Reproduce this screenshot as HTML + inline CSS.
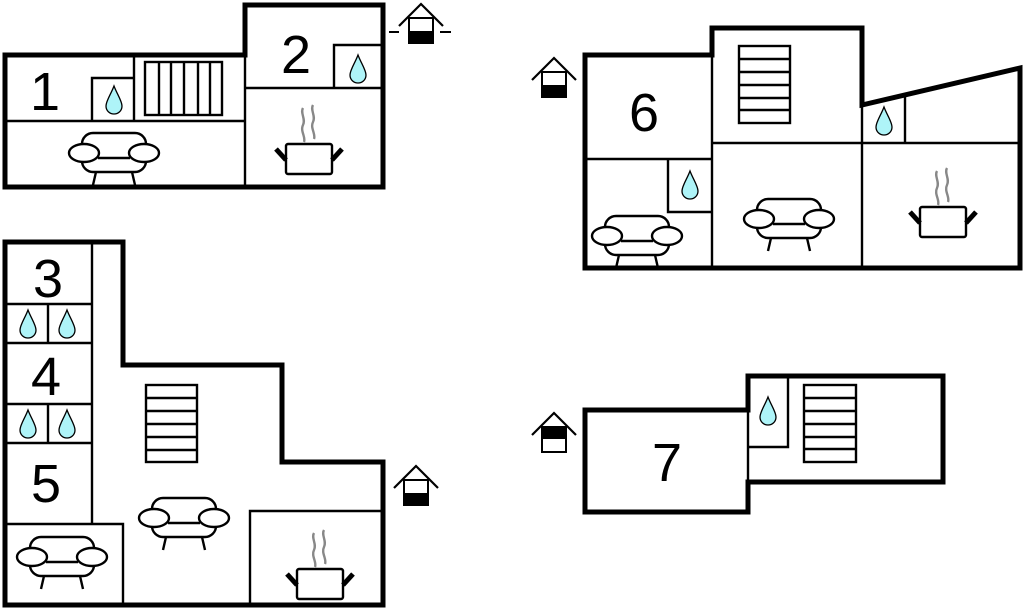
<!DOCTYPE html>
<html><head><meta charset="utf-8"><style>
html,body{margin:0;padding:0;background:#fff;width:1024px;height:609px;overflow:hidden}
svg{display:block}
text{font-family:"Liberation Sans",sans-serif;font-size:54px;fill:#000}
</style></head><body>
<svg width="1024" height="609" viewBox="0 0 1024 609" xmlns="http://www.w3.org/2000/svg">
<defs>
<g id="sofa" fill="#fff" stroke="#000" stroke-width="2.4">
 <rect x="-32" y="-22" width="64" height="39" rx="11"/>
 <ellipse cx="-30" cy="-2" rx="15" ry="9"/>
 <ellipse cx="30" cy="-2" rx="15" ry="9"/>
 <line x1="-16" y1="3" x2="16" y2="3"/>
 <line x1="-18" y1="17" x2="-21" y2="30"/>
 <line x1="18" y1="17" x2="21" y2="30"/>
</g>
<g id="drop"><path d="M0,-14 C-3,-6 -8,1 -8,6 C-8,11 -4,14 0,14 C4,14 8,11 8,6 C8,1 3,-6 0,-14 Z" fill="#aef4f8" stroke="#000" stroke-width="1.3"/></g>
<g id="pot">
 <path d="M-6,-47 C-9,-42 -3,-36 -6,-30 C-9,-24 -3,-18 -5,-13" fill="none" stroke="#888" stroke-width="2.4"/>
 <path d="M4,-50 C1,-45 7,-39 4,-33 C1,-27 7,-21 5,-16" fill="none" stroke="#888" stroke-width="2.4"/>
 <rect x="-23" y="-11" width="46" height="30" rx="2" fill="#fff" stroke="#000" stroke-width="2.4"/>
 <line x1="-33" y1="-6" x2="-23" y2="5" stroke="#000" stroke-width="5"/>
 <line x1="33" y1="-6" x2="23" y2="5" stroke="#000" stroke-width="5"/>
</g>
<g id="houseB"><polyline points="-22,22 0,0 22,22" fill="none" stroke="#000" stroke-width="2.2"/><rect x="-12" y="14" width="24" height="25" fill="#fff" stroke="#000" stroke-width="2"/><rect x="-12" y="27" width="24" height="12" fill="#000"/></g>
<g id="houseT"><polyline points="-22,22 0,0 22,22" fill="none" stroke="#000" stroke-width="2.2"/><rect x="-12" y="14" width="24" height="25" fill="#fff" stroke="#000" stroke-width="2"/><rect x="-12" y="14" width="24" height="12" fill="#000"/></g>
</defs>

<g fill="none" stroke="#000" stroke-width="2.4">
 <line x1="5" y1="121" x2="245" y2="121"/>
 <line x1="245" y1="55" x2="245" y2="187"/>
 <line x1="134" y1="55" x2="134" y2="121"/>
 <polyline points="92,121 92,78 134,78"/>
 <rect x="145" y="62" width="77" height="53"/>
 <line x1="159" y1="62" x2="159" y2="115"/><line x1="171" y1="62" x2="171" y2="115"/>
 <line x1="184" y1="62" x2="184" y2="115"/><line x1="198" y1="62" x2="198" y2="115"/>
 <line x1="210" y1="62" x2="210" y2="115"/>
 <line x1="245" y1="88" x2="383" y2="88"/>
 <polyline points="334,88 334,45 383,45"/>
</g>
<polygon points="5,55 245,55 245,5 383,5 383,187 5,187" fill="none" stroke="#000" stroke-width="5"/>
<text x="30" y="110">1</text>
<text x="281" y="73">2</text>
<use href="#drop" x="114" y="100"/>
<use href="#drop" x="358" y="69"/>
<use href="#sofa" x="114" y="155"/>
<use href="#pot" x="309" y="155"/>
<use href="#houseB" x="421" y="4"/>
<line x1="389" y1="32" x2="399" y2="32" stroke="#000" stroke-width="2"/>
<line x1="440" y1="32" x2="451" y2="32" stroke="#000" stroke-width="2"/>

<g fill="none" stroke="#000" stroke-width="2.4">
 <line x1="92" y1="242" x2="92" y2="524"/>
 <line x1="5" y1="304" x2="92" y2="304"/><line x1="5" y1="343" x2="92" y2="343"/>
 <line x1="5" y1="404" x2="92" y2="404"/><line x1="5" y1="443" x2="92" y2="443"/>
 <line x1="48" y1="304" x2="48" y2="343"/><line x1="48" y1="404" x2="48" y2="443"/>
 <polyline points="5,524 123,524 123,605"/>
 <polyline points="250,605 250,511 383,511"/>
 <rect x="146" y="385" width="51" height="77"/>
 <line x1="146" y1="398" x2="197" y2="398"/><line x1="146" y1="411" x2="197" y2="411"/>
 <line x1="146" y1="424" x2="197" y2="424"/><line x1="146" y1="437" x2="197" y2="437"/>
 <line x1="146" y1="450" x2="197" y2="450"/>
</g>
<polygon points="5,242 123,242 123,365 282,365 282,462 383,462 383,605 5,605" fill="none" stroke="#000" stroke-width="5"/>
<text x="33" y="297">3</text>
<text x="31" y="395">4</text>
<text x="31" y="502">5</text>
<use href="#drop" x="28" y="324"/><use href="#drop" x="67" y="324"/>
<use href="#drop" x="28" y="424"/><use href="#drop" x="67" y="424"/>
<use href="#sofa" x="184" y="520"/>
<use href="#sofa" x="62" y="559"/>
<use href="#pot" x="320" y="580"/>
<use href="#houseB" x="416" y="466"/>

<g fill="none" stroke="#000" stroke-width="2.4">
 <line x1="712" y1="55" x2="712" y2="268"/>
 <line x1="585" y1="159" x2="712" y2="159"/>
 <polyline points="668,159 668,212 712,212"/>
 <line x1="712" y1="143" x2="1020" y2="143"/>
 <line x1="862" y1="105" x2="862" y2="268"/>
 <line x1="905" y1="97" x2="905" y2="143"/>
 <rect x="739" y="46" width="51" height="77"/>
 <line x1="739" y1="59" x2="790" y2="59"/><line x1="739" y1="72" x2="790" y2="72"/>
 <line x1="739" y1="85" x2="790" y2="85"/><line x1="739" y1="98" x2="790" y2="98"/>
 <line x1="739" y1="110" x2="790" y2="110"/>
</g>
<polygon points="585,55 712,55 712,28 862,28 862,105 1020,68 1020,268 585,268" fill="none" stroke="#000" stroke-width="5"/>
<text x="629" y="131">6</text>
<use href="#drop" x="690" y="185"/>
<use href="#drop" x="884" y="121"/>
<use href="#sofa" x="637" y="238"/>
<use href="#sofa" x="789" y="221"/>
<use href="#pot" x="943" y="218"/>
<use href="#houseB" x="554" y="58"/>

<g fill="none" stroke="#000" stroke-width="2.4">
 <polyline points="748,447 788,447 788,376"/>
 <line x1="748" y1="410" x2="748" y2="482"/>
 <rect x="804" y="385" width="52" height="77"/>
 <line x1="804" y1="398" x2="856" y2="398"/><line x1="804" y1="411" x2="856" y2="411"/>
 <line x1="804" y1="424" x2="856" y2="424"/><line x1="804" y1="437" x2="856" y2="437"/>
 <line x1="804" y1="449" x2="856" y2="449"/>
</g>
<polygon points="585,410 748,410 748,376 943,376 943,482 748,482 748,512 585,512" fill="none" stroke="#000" stroke-width="5"/>
<text x="652" y="481">7</text>
<use href="#drop" x="768" y="411"/>
<use href="#houseT" x="554" y="413"/>
</svg>
</body></html>
